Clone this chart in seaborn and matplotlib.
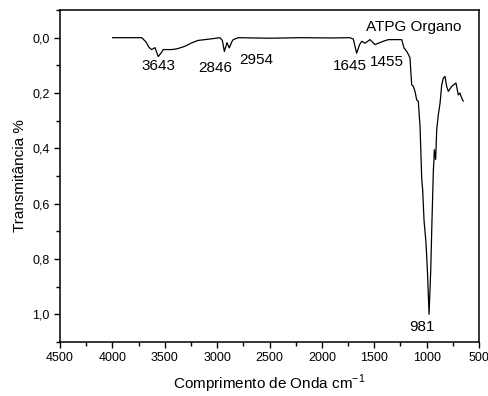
import numpy as np
import pandas as pd
import matplotlib
matplotlib.use('Agg')
import matplotlib.pyplot as plt
import seaborn as sns
from matplotlib.ticker import MultipleLocator, FuncFormatter

# Spectrum (wavenumber, transmittance)
wavenumber = [4000, 3720, 3680, 3650, 3625, 3593, 3575, 3562, 3540, 3514, 3434, 3380, 3307,
              3250, 3183, 3050, 2973, 2950, 2931, 2906, 2884, 2860, 2846, 2798, 2500, 2200,
              1900, 1733, 1700, 1685, 1668, 1640, 1620, 1588, 1541, 1493, 1461, 1414, 1366,
              1238, 1216, 1190, 1175, 1159, 1143, 1127, 1111, 1095, 1080, 1063, 1047, 1038,
              1025, 1006, 993, 977, 961, 949, 936, 930, 927, 914, 904, 889, 872, 856, 841,
              825, 809, 793, 761, 720, 698, 682, 666, 650]
transmit = [0.0, 0.0, 0.015, 0.035, 0.043, 0.036, 0.055, 0.068, 0.058, 0.043, 0.043, 0.04, 0.031,
            0.02, 0.01, 0.004, 0.0, 0.01, 0.05, 0.018, 0.037, 0.015, 0.007, 0.0, 0.002, 0.0,
            0.001, 0.0, 0.005, 0.03, 0.056, 0.025, 0.013, 0.02, 0.007, 0.025, 0.02, 0.013, 0.007,
            0.007, 0.037, 0.05, 0.06, 0.073, 0.17, 0.176, 0.194, 0.225, 0.23, 0.32, 0.51, 0.55,
            0.66, 0.743, 0.84, 1.0, 0.84, 0.66, 0.48, 0.44, 0.405, 0.44, 0.333, 0.28, 0.237, 0.17,
            0.146, 0.14, 0.176, 0.194, 0.176, 0.164, 0.207, 0.2, 0.218, 0.23]

peak_labels = ['3643', '2846', '2954', '1645', '1455', '981']
peak_x = [3560, 3020, 2622, 1732, 1381, 1047]
peak_y = [0.104, 0.11, 0.08, 0.104, 0.088, 1.046]

df = pd.DataFrame({'wn': wavenumber, 'T': transmit})

sns.set_style('ticks')
plt.rcParams['font.family'] = ['Liberation Sans', 'DejaVu Sans']
plt.rcParams['mathtext.fontset'] = 'custom'
plt.rcParams['mathtext.rm'] = 'Liberation Sans'
for k in ['text.color', 'axes.labelcolor', 'xtick.color', 'ytick.color', 'axes.edgecolor']:
    plt.rcParams[k] = 'black'

fig = plt.figure(figsize=(4.89, 3.96), dpi=100)
ax = fig.add_axes([0.1227, 0.1364, 0.8569, 0.8383])

sns.lineplot(data=df, x='wn', y='T', color='black', linewidth=0.9, sort=False, ax=ax)

for lab, x, y in zip(peak_labels, peak_x, peak_y):
    ax.text(x, y, lab, ha='center', va='center', fontsize=11)
ax.text(1127, -0.04, 'ATPG Organo', ha='center', va='center', fontsize=11)

ax.set_xlim(4500, 500)
ax.set_ylim(1.1, -0.1)
ax.xaxis.set_major_locator(MultipleLocator(500))
ax.xaxis.set_minor_locator(MultipleLocator(250))
ax.yaxis.set_major_locator(MultipleLocator(0.2))
ax.yaxis.set_minor_locator(MultipleLocator(0.1))
ax.yaxis.set_major_formatter(FuncFormatter(lambda v, _: f'{v:.1f}'.replace('.', ',').replace('-0,0', '0,0')))
ax.tick_params(which='major', direction='out', length=4, width=1, labelsize=9, top=False, right=False)
ax.tick_params(which='minor', direction='out', length=3, width=1, top=False, right=False)
for s in ax.spines.values():
    s.set_linewidth(1.1)

ax.set_xlabel('Comprimento de Onda cm$^{-1}$', fontsize=11, labelpad=6)
ax.set_ylabel('Transmitância %', fontsize=11, labelpad=4)

fig.savefig('out.png', dpi=100)
